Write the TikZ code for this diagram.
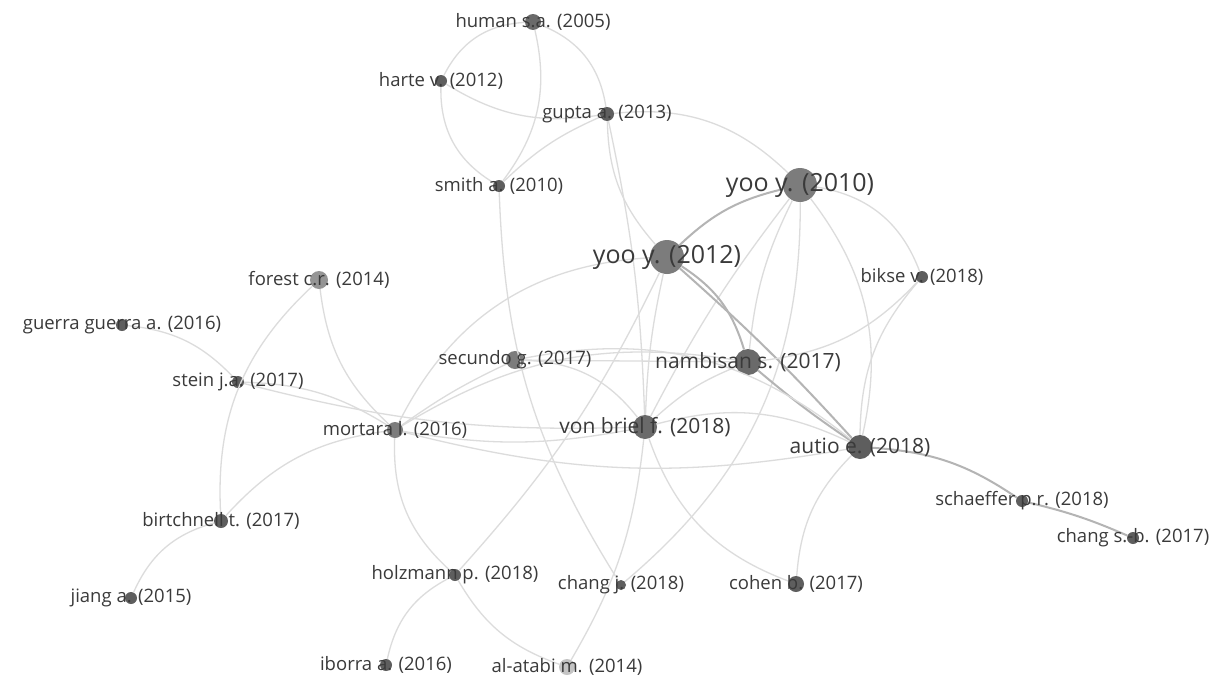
\documentclass[tikz,border=0pt]{standalone}
\usepackage{fontspec}
\setmainfont{Open Sans}
\definecolor{edgec}{HTML}{DCDCDC}
\definecolor{edgeS}{HTML}{B4B4B4}
\definecolor{labc}{HTML}{3A3A3A}
\definecolor{dotA}{HTML}{7C7C7C}
\definecolor{dotB}{HTML}{6A6A6A}
\definecolor{dotC}{HTML}{5E5E5E}
\definecolor{dotD}{HTML}{959595}
\definecolor{dotE}{HTML}{C4C4C4}
\begin{document}
\begin{tikzpicture}[x=1pt,y=1pt,
  nd/.style={circle,inner sep=0pt,minimum size=#1,fill=dotC,draw=none},
  ln/.style={draw=edgec,line width=1.3pt},
  lns/.style={draw=edgeS,line width=2pt},
  lab/.style={text=labc,inner sep=0pt,font=\fontsize{18.5}{20}\selectfont},
  labM/.style={lab,font=\fontsize{21}{23}\selectfont},
  labL/.style={lab,font=\fontsize{25}{28}\selectfont}]
\fill[white] (0,0) rectangle (1210,-680);
\useasboundingbox (0,0) rectangle (1210,-680);
% nodes (circles)
\node[nd=16pt,fill=dotB] (human) at (533,-22) {};
\node[nd=12pt] (harte) at (441,-81) {};
\node[nd=14pt] (gupta) at (607,-114) {};
\node[nd=12pt] (smith) at (499,-186) {};
\node[nd=34pt,fill=dotA] (yooA) at (800,-185) {};
\node[nd=34pt,fill=dotA] (yooB) at (667,-257) {};
\node[nd=12pt] (bikse) at (922,-277) {};
\node[nd=18pt,fill=dotD] (forest) at (319,-280) {};
\node[nd=12pt] (guerra) at (122,-325) {};
\node[nd=12pt] (stein) at (238,-382) {};
\node[nd=18pt,fill=dotA] (secundo) at (515,-360) {};
\node[nd=26pt,fill=dotB] (nambisan) at (748,-362) {};
\node[nd=16pt,fill=dotA] (mortara) at (395,-430) {};
\node[nd=24pt,fill=dotB] (vonbriel) at (645,-427) {};
\node[nd=24pt] (autio) at (860,-447) {};
\node[nd=12pt] (schaeffer) at (1022,-501) {};
\node[nd=12pt] (changsb) at (1133,-538) {};
\node[nd=14pt] (birtchnell) at (221,-521) {};
\node[nd=12pt] (jiang) at (131,-598) {};
\node[nd=12pt] (holzmann) at (455,-575) {};
\node[nd=10pt] (changj) at (621,-585) {};
\node[nd=16pt] (cohen) at (796,-584) {};
\node[nd=12pt] (iborra) at (386,-665) {};
\node[nd=16pt,fill=dotE] (alatabi) at (567,-667) {};
% links
\draw[ln] (human) to[bend right=30] (harte);
\draw[ln] (human) to[bend left=25] (smith);
\draw[ln] (human) to[bend left=30] (gupta);
\draw[ln] (harte) to[bend right=20] (gupta);
\draw[ln] (harte) to[bend right=30] (smith);
\draw[ln] (gupta) to[bend right=10] (smith);
\draw[ln] (gupta) to[bend left=25] (yooA);
\draw[ln] (gupta) to[bend right=20] (yooB);
\draw[ln] (gupta) to[bend left=5] (vonbriel);
\draw[ln] (smith) to[bend right=15] (changj);
\draw[lns] (yooA) to[bend right=15] (yooB);
\draw[ln] (yooA) to[bend right=5] (vonbriel);
\draw[ln] (yooA) to[bend left=25] (changj);
\draw[ln] (yooA) to[bend left=25] (autio);
\draw[ln] (yooA) to[bend left=30] (bikse);
\draw[ln] (yooA) to[bend right=10] (nambisan);
\draw[lns] (yooB) to[bend left=20] (nambisan);
\draw[lns] (yooB) to[bend left=3] (autio);
\draw[ln] (yooB) to[bend right=5] (vonbriel);
\draw[ln] (yooB) to[bend right=30] (mortara);
\draw[ln] (bikse) to[bend left=20] (nambisan);
\draw[ln] (bikse) to[bend right=20] (autio);
\draw[ln] (forest) to[bend right=25] (birtchnell);
\draw[ln] (guerra) to[bend left=20] (stein);
\draw[ln] (stein) to[bend left=15] (mortara);
\draw[ln] (stein) to[bend right=8] (vonbriel);
\draw[ln] (forest) to[bend right=20] (mortara);
\draw[ln] (mortara) to[bend right=20] (birtchnell);
\draw[ln] (birtchnell) to[bend right=25] (jiang);
\draw[ln] (mortara) to[bend right=25] (holzmann);
\draw[ln] (holzmann) to[bend right=20] (alatabi);
\draw[ln] (iborra) to[bend left=25] (holzmann);
\draw[ln] (holzmann) to[bend right=8] (yooB);
\draw[ln] (vonbriel) to[bend left=12] (alatabi);
\draw[ln] (vonbriel) to[bend right=25] (cohen);
\draw[ln] (autio) to[bend right=20] (cohen);
\draw[lns] (autio) to[bend left=15] (schaeffer);
\draw[lns] (schaeffer) to[bend left=5] (changsb);
\draw[lns] (nambisan) to[bend right=3] (autio);
\draw[ln] (vonbriel) to[bend left=20] (autio);
\draw[ln] (nambisan) to[bend right=10] (vonbriel);
\draw[ln] (secundo) -- (nambisan);
\draw[ln] (secundo) to[bend left=25] (vonbriel);
\draw[ln] (mortara) to[bend left=5] (secundo);
\draw[ln] (mortara) to[bend left=20] (nambisan);
\draw[ln] (mortara) to[bend right=10] (vonbriel);
\draw[ln] (mortara) to[bend right=12] (autio);
\draw[ln] (secundo) to[bend left=25] (autio);
% labels
\node[lab] (human-t) at (human) {human s.a. (2005)};
\node[lab] (harte-t) at (harte) {harte v. (2012)};
\node[lab] (gupta-t) at (gupta) {gupta a. (2013)};
\node[lab] (smith-t) at (smith) {smith a. (2010)};
\node[labL] (yooA-t) at (yooA) {yoo y. (2010)};
\node[labL] (yooB-t) at (yooB) {yoo y. (2012)};
\node[lab] (bikse-t) at (bikse) {bikse v. (2018)};
\node[lab] (forest-t) at (forest) {forest c.r. (2014)};
\node[lab] (guerra-t) at (guerra) {guerra guerra a. (2016)};
\node[lab] (stein-t) at (stein) {stein j.a. (2017)};
\node[lab] (secundo-t) at (secundo) {secundo g. (2017)};
\node[labM] (nambisan-t) at (nambisan) {nambisan s. (2017)};
\node[lab] (mortara-t) at (mortara) {mortara l. (2016)};
\node[labM] (vonbriel-t) at (vonbriel) {von briel f. (2018)};
\node[labM] (autio-t) at (autio) {autio e. (2018)};
\node[lab] (schaeffer-t) at (schaeffer) {schaeffer p.r. (2018)};
\node[lab] (changsb-t) at (changsb) {chang s.-b. (2017)};
\node[lab] (birtchnell-t) at (birtchnell) {birtchnell t. (2017)};
\node[lab] (jiang-t) at (jiang) {jiang a. (2015)};
\node[lab] (holzmann-t) at (holzmann) {holzmann p. (2018)};
\node[lab] (changj-t) at (changj) {chang j. (2018)};
\node[lab] (cohen-t) at (cohen) {cohen b. (2017)};
\node[lab] (iborra-t) at (iborra) {iborra a. (2016)};
\node[lab] (alatabi-t) at (alatabi) {al-atabi m. (2014)};
\end{tikzpicture}
\end{document}
